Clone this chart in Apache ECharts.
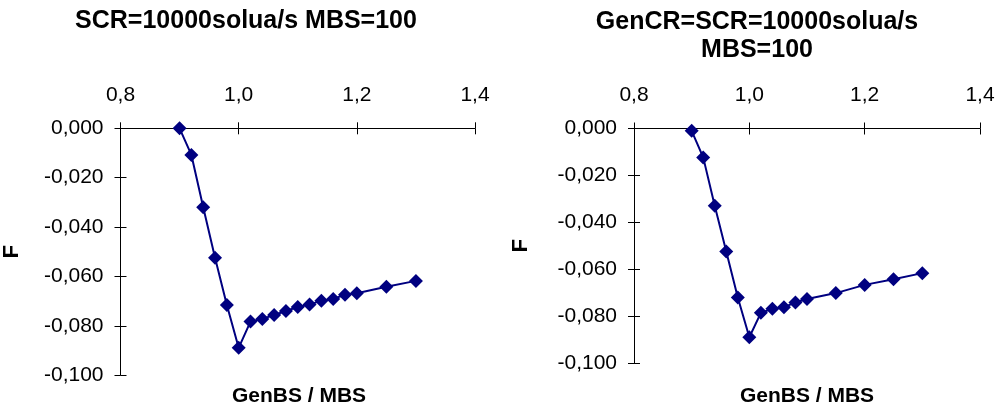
<!DOCTYPE html>
<html>
<head>
<meta charset="utf-8">
<script src="https://cdn.jsdelivr.net/npm/echarts@6/dist/echarts.min.js"></script>
<style>html,body{margin:0;padding:0;background:#fff}#c{width:1006px;height:410px}</style>
</head>
<body>
<div id="c"></div>
<script>
const leftTitle = 'SCR=10000solua/s MBS=100';
const rightTitle = ['GenCR=SCR=10000solua/s', 'MBS=100'];
const xName = 'GenBS / MBS';
const yName = 'F';
const xTicks = [0.8, 1.0, 1.2, 1.4];
const yTicks = [0, -0.02, -0.04, -0.06, -0.08, -0.1];

const leftX = [0.90, 0.92, 0.94, 0.96, 0.98, 1.00, 1.02, 1.04, 1.06, 1.08, 1.10, 1.12, 1.14, 1.16, 1.18, 1.20, 1.25, 1.30];
const leftF = [0.0000, -0.0108, -0.0320, -0.0524, -0.0716, -0.0889, -0.0783, -0.0772, -0.0756, -0.0740, -0.0724, -0.0714, -0.0698, -0.0691, -0.0674, -0.0668, -0.0642, -0.0618];

const rightX = [0.90, 0.92, 0.94, 0.96, 0.98, 1.00, 1.02, 1.04, 1.06, 1.08, 1.10, 1.15, 1.20, 1.25, 1.30];
const rightF = [-0.0010, -0.0123, -0.0329, -0.0524, -0.0720, -0.0889, -0.0785, -0.0768, -0.0761, -0.0741, -0.0726, -0.0701, -0.0666, -0.0642, -0.0616];

const FONT = "'Liberation Sans', Arial, sans-serif";
const navy = '#000080';
const xMin = xTicks[0], xMax = xTicks[xTicks.length - 1], xInt = xTicks[1] - xTicks[0];
const yMax = yTicks[0], yMin = yTicks[yTicks.length - 1], yInt = yTicks[0] - yTicks[1];

const grids = [
  {left: 119.5, top: 128.3, width: 355.5, height: 246.9},
  {left: 634, top: 128.5, width: 346, height: 234.8}
];
const nameGaps = [97.5, 102];

const xAxes = [], yAxes = [];
grids.forEach((g, i) => {
  xAxes.push({
    type: 'value', gridIndex: i, position: 'top', min: xMin, max: xMax, interval: xInt,
    axisLine: {show: true, onZero: false, lineStyle: {color: '#000', width: 1}},
    axisTick: {show: true, inside: false, length: 6, lineStyle: {color: '#000'}},
    axisLabel: {show: true, margin: 23, color: '#000', fontSize: 21, fontFamily: FONT,
      formatter: v => v.toFixed(1).replace('.', ',')},
    splitLine: {show: false}
  });
  xAxes.push({
    type: 'value', gridIndex: i, position: 'top', offset: 0, min: xMin, max: xMax, interval: xInt,
    axisLine: {show: false},
    axisTick: {show: true, inside: true, length: 6, lineStyle: {color: '#000'}},
    axisLabel: {show: false}, splitLine: {show: false}
  });
  yAxes.push({
    type: 'value', gridIndex: i, position: 'left', min: yMin, max: yMax, interval: yInt,
    name: yName, nameLocation: 'middle', nameRotate: 90, nameGap: nameGaps[i],
    nameTextStyle: {color: '#000', fontSize: 22, fontWeight: 'bold', fontFamily: FONT},
    axisLine: {show: true, onZero: false, lineStyle: {color: '#000', width: 1}},
    axisTick: {show: true, inside: false, length: 6, lineStyle: {color: '#000'}},
    axisLabel: {show: true, margin: 17, color: '#000', fontSize: 21, fontFamily: FONT,
      formatter: v => (Math.abs(v) < 1e-9 ? 0 : v).toFixed(3).replace('.', ',')},
    splitLine: {show: false}
  });
  yAxes.push({
    type: 'value', gridIndex: i, position: 'left', offset: 0, min: yMin, max: yMax, interval: yInt,
    axisLine: {show: false},
    axisTick: {show: true, inside: true, length: 6, lineStyle: {color: '#000'}},
    axisLabel: {show: false}, splitLine: {show: false}
  });
});

function pairs(xs, ys) { return xs.map((x, k) => [x, ys[k]]); }

const seriesCommon = {
  type: 'line', symbol: 'diamond', symbolSize: 14,
  itemStyle: {color: navy}, lineStyle: {color: navy, width: 2},
  animation: false, silent: true, z: 5
};

const option = {
  animation: false,
  backgroundColor: '#fff',
  grid: grids,
  xAxis: xAxes,
  yAxis: yAxes,
  series: [
    Object.assign({}, seriesCommon, {xAxisIndex: 0, yAxisIndex: 0, data: pairs(leftX, leftF)}),
    Object.assign({}, seriesCommon, {xAxisIndex: 2, yAxisIndex: 2, data: pairs(rightX, rightF)})
  ],
  graphic: [
    {type: 'text', x: 246, y: 21, style: {text: leftTitle, align: 'center', verticalAlign: 'middle',
      font: "bold 25px " + FONT, fill: '#000'}},
    {type: 'text', x: 757, y: 22, style: {text: rightTitle[0], align: 'center', verticalAlign: 'middle',
      font: "bold 25px " + FONT, fill: '#000'}},
    {type: 'text', x: 757, y: 50, style: {text: rightTitle[1], align: 'center', verticalAlign: 'middle',
      font: "bold 25px " + FONT, fill: '#000'}},
    {type: 'text', x: 299, y: 396.5, style: {text: xName, align: 'center', verticalAlign: 'middle',
      font: "bold 21px " + FONT, fill: '#000'}},
    {type: 'text', x: 807, y: 396.5, style: {text: xName, align: 'center', verticalAlign: 'middle',
      font: "bold 21px " + FONT, fill: '#000'}}
  ]
};

const chart = echarts.init(document.getElementById('c'), null, {renderer: 'canvas'});
chart.setOption(option);
</script>
</body>
</html>
